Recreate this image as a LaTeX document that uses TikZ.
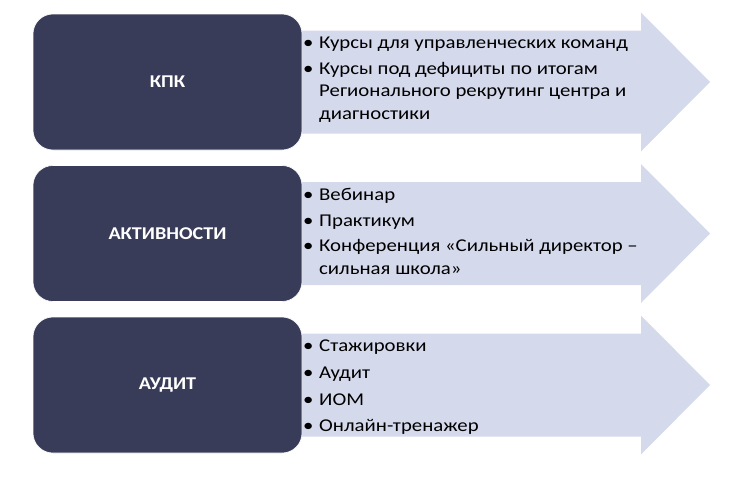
\documentclass[tikz,border=0pt]{standalone}
\usepackage{fontspec}
\setmainfont{Carlito}[FakeStretch=1.12]
\newfontfamily\listfont{Carlito}[FakeStretch=1.155]
\definecolor{boxdark}{HTML}{383C58}
\definecolor{arrowlight}{HTML}{D5D9EC}
\newcommand\bl{\rule{0pt}{14pt}\makebox[16pt][l]{\textbullet}}
\newcommand\hang{\hspace*{16pt}}
\begin{document}
\begin{tikzpicture}[x=1pt,y=-1pt,
    titlebox/.style={fill=boxdark,draw=white,line width=0.6pt,rounded corners=20pt,
      minimum width=269pt,minimum height=136pt,text=white,
      font=\bfseries\fontsize{18}{22.5}\selectfont},
    itemlist/.style={anchor=north west,inner sep=0pt,align=left,
      font=\listfont\fontsize{18}{22.5}\selectfont},
    arrowbody/.style={fill=arrowlight}]
  \useasboundingbox (0,0) rectangle (748,477);
  % arrows first, boxes on top
  \fill[arrowbody] (290,30.5) -- (641,30.5) -- (641,12.5) -- (710,82) -- (641,151.5)
    -- (641,133.5) -- (290,133.5) -- cycle;
  \fill[arrowbody] (290,182) -- (641,182) -- (641,164) -- (710,233.5) -- (641,303)
    -- (641,285) -- (290,285) -- cycle;
  \fill[arrowbody] (290,333.5) -- (641,333.5) -- (641,315.5) -- (710,385) -- (641,454.5)
    -- (641,436.5) -- (290,436.5) -- cycle;
  \draw
    (167.5,82) node[titlebox] (kpk){КПК}
    (167.5,233.5) node[titlebox] (activ){АКТИВНОСТИ}
    (167.5,385) node[titlebox] (audit){АУДИТ};
  \begin{scope}[every node/.append style={itemlist}]
    \node (kpklist) at (303,34.5) {\bl Курсы для управленческих команд\\[3pt]
      \bl Курсы под дефициты по итогам\\
      \hang Регионального рекрутинг центра и\\
      \hang диагностики};
    \node (activlist) at (303,186.5) {\bl Вебинар\\[3pt]
      \bl Практикум\\[3pt]
      \bl Конференция «Сильный директор –\\
      \hang сильная школа»};
    \node (auditlist) at (303,337.5) {\bl Стажировки\\[4.2pt]
      \bl Аудит\\[4.2pt]
      \bl ИОМ\\[4.2pt]
      \bl Онлайн-тренажер};
  \end{scope}
\end{tikzpicture}
\end{document}
